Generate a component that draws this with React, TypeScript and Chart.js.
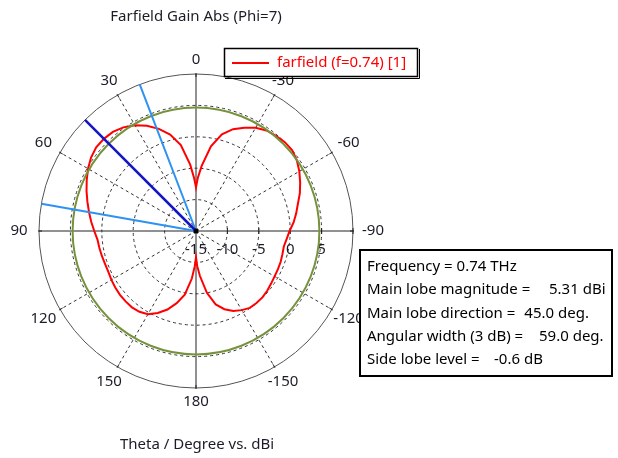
import { useEffect, useRef } from 'react';
import { Chart, registerables } from 'chart.js';

Chart.register(...registerables);

// ---------------- data ----------------
const TITLE = 'Farfield Gain Abs (Phi=7)';
const AXIS_CAPTION = 'Theta / Degree vs. dBi';
const SERIES_LABEL = 'farfield (f=0.74) [1]';

const R_MIN = -15;
const R_MAX = 10;
const R_STEP = 5;
const R_TICK_LABELS = [-15, -10, -5, 0, 5];
const ANGLE_TICKS = [0, 30, 60, 90, 120, 150, 180, -150, -120, -90, -60, -30];

// theta (deg, counter-clockwise from top) and gain (dBi)
const THETA_DEG = [
  0, 2, 5, 10, 15, 20, 25, 30, 35, 40, 45, 50, 55, 60, 65, 70, 75, 80, 85, 90,
  95, 100, 105, 110, 115, 120, 125, 130, 135, 140, 145, 150, 155, 160, 165, 170, 175, 178, 180,
  -178, -175, -170, -165, -160, -155, -150, -145, -140, -135, -130, -125, -120, -115, -110, -105,
  -100, -95, -90, -85, -80, -75, -70, -65, -60, -55, -50, -45, -40, -35, -30, -25, -20, -15, -10, -5, -2,
];
const GAIN_DBI = [
  -8.05, -6.6, -4.4, -1.1, 0.9, 2.3, 3.5, 4.45, 5.15, 5.6, 5.75, 5.75, 5.4, 4.85, 4.2, 3.55, 2.9, 2.3, 1.75, 1.2,
  0.75, 0.62, 0.5, 0.4, 0.4, 0.55, 0.7, 0.8, 0.85, 0.87, 0.7, 0.3, -0.6, -1.7, -3.1, -4.7, -7.4, -9.4, -10.8,
  -9.4, -7.8, -5.0, -2.9, -1.75, -0.95, -0.45, -0.05, -0.02, -0.05, -0.2, -0.4, -0.55, -0.6, -0.65, -0.75,
  -0.8, -0.5, -0.1, 0.6, 1.2, 1.8, 2.6, 3.3, 4.0, 4.6, 5.0, 5.0, 4.8, 4.55, 4.0, 3.15, 2.25, 0.95, -1.3, -4.6, -6.5,
];

const MAIN_LOBE_DIR_DEG = 45;
const BEAM_EDGES_DEG = [21, 80];
const REF_CIRCLE_DBI = 4.65;

const INFO_LABELS = [
  'Frequency = 0.74 THz',
  'Main lobe magnitude =',
  'Main lobe direction =',
  'Angular width (3 dB) =',
  'Side lobe level =',
];
const INFO_VALUES = ['', '5.31 dBi', '45.0 deg.', '59.0 deg.', '-0.6 dB'];

// ---------------- helpers ----------------
const N = 360;
const idxOf = (theta: number) => ((Math.round(-theta) % N) + N) % N;
const labelOf = (i: number) => {
  let t = -i;
  while (t <= -180) t += 360;
  return String(t);
};

const RADAR_LABELS = Array.from({ length: N }, (_, i) => labelOf(i));

const redData: (number | null)[] = new Array(N).fill(null);
THETA_DEG.forEach((t, k) => {
  redData[idxOf(t)] = GAIN_DBI[k];
});

const mainLobeData: (number | null)[] = new Array(N).fill(null);
mainLobeData[idxOf(MAIN_LOBE_DIR_DEG)] = R_MAX;
mainLobeData[(idxOf(MAIN_LOBE_DIR_DEG) + 1) % N] = R_MIN;

const beamData: (number | null)[] = new Array(N).fill(null);
BEAM_EDGES_DEG.forEach((t) => {
  beamData[idxOf(t)] = R_MAX;
  beamData[(idxOf(t) + 1) % N] = R_MIN;
});

const FONT = '"Noto Sans", "DejaVu Sans", sans-serif';
const TEXT_COLOR = '#1c1c28';
const RED_INDEX = 2;

const decor = {
  id: 'decor',
  beforeDraw(chart: any) {
    const { ctx, width, height } = chart;
    ctx.save();
    ctx.fillStyle = '#ffffff';
    ctx.fillRect(0, 0, width, height);
    ctx.restore();
  },
  beforeDatasetsDraw(chart: any) {
    const s = chart.scales.r;
    const ctx = chart.ctx;
    const cx = s.xCenter;
    const cy = s.yCenter;
    const R = s.drawingArea;
    ctx.save();
    ctx.strokeStyle = '#222';
    ctx.lineWidth = 1;
    ctx.setLineDash([]);
    for (let v = R_MIN + R_STEP; v <= R_MAX; v += R_STEP) {
      const x = cx + s.getDistanceFromCenterForValue(v);
      ctx.beginPath();
      ctx.moveTo(x, cy - 3);
      ctx.lineTo(x, cy + 3);
      ctx.stroke();
    }
    ANGLE_TICKS.forEach((a) => {
      const i = idxOf(a);
      const p1 = s.getPointPosition(i, R - 3);
      const p2 = s.getPointPosition(i, R + 1);
      ctx.beginPath();
      ctx.moveTo(p1.x, p1.y);
      ctx.lineTo(p2.x, p2.y);
      ctx.stroke();
    });
    ctx.font = `15px ${FONT}`;
    ctx.fillStyle = TEXT_COLOR;
    ctx.textAlign = 'center';
    ctx.textBaseline = 'middle';
    R_TICK_LABELS.forEach((v) => {
      ctx.fillText(String(v), cx + s.getDistanceFromCenterForValue(v), cy + 19);
    });
    ANGLE_TICKS.forEach((a) => {
      const rad = (a * Math.PI) / 180;
      const p = s.getPointPosition(idxOf(a), R + 14 + 6 * Math.abs(Math.sin(rad)));
      ctx.fillText(String(a), p.x, p.y);
    });
    ctx.restore();
  },
  afterDatasetDraw(chart: any, args: any) {
    if (args.index !== RED_INDEX) return;
    const s = chart.scales.r;
    const ctx = chart.ctx;
    ctx.save();
    ctx.strokeStyle = '#76923c';
    ctx.lineWidth = 2;
    ctx.beginPath();
    ctx.arc(s.xCenter, s.yCenter, s.getDistanceFromCenterForValue(REF_CIRCLE_DBI), 0, Math.PI * 2);
    ctx.stroke();
    ctx.restore();
  },
  afterDraw(chart: any) {
    const s = chart.scales.r;
    const ctx = chart.ctx;
    ctx.save();
    // center marker
    ctx.fillStyle = '#000';
    ctx.beginPath();
    ctx.arc(s.xCenter, s.yCenter, 2.5, 0, Math.PI * 2);
    ctx.fill();

    // title & caption
    ctx.font = `15px ${FONT}`;
    ctx.fillStyle = TEXT_COLOR;
    ctx.textAlign = 'center';
    ctx.textBaseline = 'middle';
    ctx.fillText(TITLE, s.xCenter, 17);
    ctx.fillText(AXIS_CAPTION, s.xCenter + 1, 445);

    // legend box
    ctx.fillStyle = '#fff';
    ctx.fillRect(224, 48, 194, 29);
    ctx.strokeStyle = '#000';
    ctx.lineWidth = 1.5;
    ctx.strokeRect(224.5, 48.5, 193, 28);
    ctx.lineWidth = 1;
    ctx.beginPath();
    ctx.moveTo(419.5, 49);
    ctx.lineTo(419.5, 78.5);
    ctx.lineTo(225, 78.5);
    ctx.stroke();
    ctx.strokeStyle = '#ff0000';
    ctx.lineWidth = 2;
    ctx.beginPath();
    ctx.moveTo(232, 63);
    ctx.lineTo(269, 63);
    ctx.stroke();
    ctx.fillStyle = '#ff0000';
    ctx.textAlign = 'left';
    ctx.fillText(chart.data.datasets[RED_INDEX].label, 277, 63);

    // info box
    ctx.fillStyle = '#fff';
    ctx.fillRect(359, 249, 253, 127);
    ctx.strokeStyle = '#000';
    ctx.lineWidth = 2;
    ctx.strokeRect(360, 250, 252, 126);
    const valueX = [0, 549, 505, 539, 494];
    ctx.fillStyle = '#000';
    ctx.textAlign = 'left';
    INFO_LABELS.forEach((t, k) => {
      const y = 267 + k * 23.2;
      ctx.fillText(t, 367, y);
      if (INFO_VALUES[k]) {
        const minX = 367 + ctx.measureText(t).width + 9;
        ctx.fillText(INFO_VALUES[k], Math.max(valueX[k], minX), y);
      }
    });
    ctx.restore();
  },
};

export default function App() {
  const ref = useRef<HTMLCanvasElement>(null);
  useEffect(() => {
    if (!ref.current) return;
    const axisIdx = (i: number) => i % 90 === 0;
    const chart = new Chart(ref.current, {
      type: 'radar',
      data: {
        labels: RADAR_LABELS,
        datasets: [
          {
            label: 'Main lobe direction',
            data: mainLobeData,
            borderColor: '#1414c8',
            borderWidth: 2.5,
            pointRadius: 0,
            fill: false,
            spanGaps: false,
          },
          {
            label: 'Angular width (3 dB)',
            data: beamData,
            borderColor: '#2d92f2',
            borderWidth: 2,
            pointRadius: 0,
            fill: false,
            spanGaps: false,
          },
          {
            label: SERIES_LABEL,
            data: redData,
            borderColor: '#ff0000',
            borderWidth: 2,
            pointRadius: 0,
            fill: false,
            spanGaps: true,
            tension: 0,
          },
        ],
      } as any,
      options: {
        responsive: false,
        animation: false,
        devicePixelRatio: 1,
        events: [],
        layout: { padding: { left: 39, top: 74, right: 265, bottom: 70 } },
        plugins: {
          legend: { display: false },
          title: { display: false },
          tooltip: { enabled: false },
        },
        scales: {
          r: {
            min: R_MIN,
            max: R_MAX,
            beginAtZero: false,
            ticks: { display: false, stepSize: R_STEP },
            pointLabels: { display: false },
            grid: {
              circular: true,
              color: (c: any) => (c.tick && c.tick.value === R_MAX ? '#555' : '#333'),
              lineWidth: 1,
            },
            border: {
              dash: (c: any) => (c.tick && c.tick.value === R_MAX ? [] : [3, 3]),
            },
            angleLines: {
              display: true,
              color: (c: any) => (c.index % 30 === 0 ? (axisIdx(c.index) ? '#222' : '#333') : 'rgba(0,0,0,0)'),
              lineWidth: (c: any) => (c.index % 30 === 0 ? 1 : 0),
              borderDash: (c: any) => (axisIdx(c.index) ? [] : [3, 3]),
            },
          } as any,
        },
      },
      plugins: [decor],
    });
    return () => chart.destroy();
  }, []);
  return (
    <div style={{ position: 'absolute', left: 0, top: 0, width: 618, height: 458, background: '#fff' }}>
      <canvas ref={ref} width={618} height={458} style={{ display: 'block', width: 618, height: 458 }} />
    </div>
  );
}
